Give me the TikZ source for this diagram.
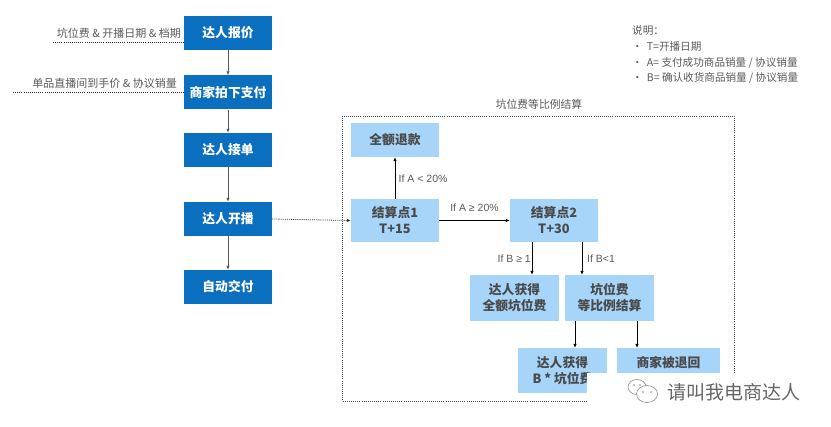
\documentclass[tikz,border=0pt]{standalone}
\usepackage{fontspec}
\setmainfont{Noto Sans CJK SC}
\newfontfamily\latinf{Liberation Sans}
\usetikzlibrary{arrows.meta,calc}
\definecolor{darkbox}{HTML}{0B6FBF}
\definecolor{lightbox}{HTML}{A7D5FA}
\definecolor{boxtext}{HTML}{4A4A4A}
\definecolor{labeltext}{HTML}{5A5A5A}
\begin{document}
\begin{tikzpicture}[x=1pt,y=-1pt,
  darkstyle/.style={fill=darkbox,draw=none,text=white,minimum width=88pt,minimum height=34pt,inner sep=0pt,font=\fontsize{12.8}{15}\selectfont\bfseries},
  lightstyle/.style={fill=lightbox,draw=none,text=boxtext,minimum width=88pt,inner sep=0pt,align=center,font=\fontsize{12.8}{16}\selectfont\bfseries},
  grayarrow/.style={draw=black!65,line width=0.9pt,-{Latex[length=4pt,width=3.5pt]}},
  blackarrow/.style={draw=black,line width=0.7pt,-{Latex[length=4pt,width=3.5pt]}},
  dotline/.style={draw=black!80,line width=0.8pt,dash pattern=on 1pt off 1.1pt},
  lbl/.style={text=labeltext,font=\fontsize{11}{13}\selectfont,inner sep=0pt},
  clbl/.style={text=labeltext,font=\latinf\fontsize{10.5}{12}\selectfont,inner sep=0pt},
  lgd/.style={text=labeltext,font=\fontsize{10.6}{12}\selectfont,inner sep=0pt,anchor=west}
]
\useasboundingbox (0,0) rectangle (831,427);
\fill[white] (0,0) rectangle (831,427);

% left column
\node[darkstyle] (baojia) at (228,33) {达人报价};
\node[darkstyle] (paixia) at (228,92.5) {商家拍下支付};
\node[darkstyle] (jiedan) at (228,150) {达人接单};
\node[darkstyle] (kaibo) at (228,219) {达人开播};
\node[darkstyle] (jiaofu) at (228,287) {自动交付};
\draw[grayarrow] (baojia) -- (paixia);
\draw[grayarrow] (paixia) -- (jiedan);
\draw[grayarrow] (jiedan) -- (kaibo);
\draw[grayarrow] (kaibo) -- (jiaofu);

% left inputs
\coordinate (in1) at (53,42);
\coordinate (in2) at (13,92);
\draw[dotline] (in1) -- (in1 -| baojia.west);
\draw[dotline] (in2) -- (in2 -| paixia.west);
\node[lbl,anchor=east] (l1) at (181,33) {坑位费 \& 开播日期 \& 档期};
\node[lbl,anchor=east] (l2) at (177,83) {单品直播间到手价 \& 协议销量};

% legend
\node[lgd] (lg0) at (632,31) {说明：};
\node[lgd] (lg1) at (632,47) {•\hspace{4pt}T=开播日期};
\node[lgd] (lg2) at (632,62.5) {•\hspace{4pt}A= 支付成功商品销量 / 协议销量};
\node[lgd] (lg3) at (632,78) {•\hspace{4pt}B= 确认收货商品销量 / 协议销量};

% dashed container
\draw[dotline,draw=black!70] (342,116) rectangle (734.5,401);
\node[lbl,font=\fontsize{10.8}{12}\selectfont] (title) at (539,104) {坑位费等比例结算};

% inner boxes
\node[lightstyle,minimum height=34pt] (tuikuan) at (395,140) {全额退款};
\node[lightstyle,minimum height=43pt] (js1) at (395,220.5) {结算点1\\T+15};
\node[lightstyle,minimum height=43pt] (js2) at (554,220.5) {结算点2\\T+30};
\node[lightstyle,minimum width=89pt,minimum height=46pt] (quan) at (514.5,298) {达人获得\\全额坑位费};
\node[lightstyle,minimum width=89pt,minimum height=46pt] (dengbi) at (609.5,298) {坑位费\\等比例结算};
\node[lightstyle,minimum width=89pt,minimum height=45pt] (bfee) at (562.5,370.5) {达人获得\\B * 坑位费};
\node[lightstyle,minimum width=103pt,minimum height=45pt] (tuihui) at (668.5,370.5) {商家被退回\\\phantom{坑位费}};

% connectors
\draw[dotline,-{Latex[length=4pt,width=3.5pt]}] (kaibo.east) -- (js1.west);
\draw[blackarrow] (js1) -- (tuikuan);
\draw[blackarrow] (js1) -- (js2);
\draw[blackarrow] ([xshift=-22pt]js2.south) -- ([xshift=-22pt]js2.south |- quan.north);
\draw[blackarrow] ([xshift=28pt]js2.south) -- ([xshift=28pt]js2.south |- dengbi.north);
\draw[blackarrow] ([xshift=-34.5pt]dengbi.south) -- ([xshift=-34.5pt]dengbi.south |- bfee.north);
\draw[blackarrow] ([xshift=27.5pt]dengbi.south) -- ([xshift=27.5pt]dengbi.south |- tuihui.north);

% connector labels
\node[clbl,anchor=west] (ca) at (398.5,179) {If A < 20\%};
\node[clbl] (cb) at (474.5,208) {If A ≥ 20\%};
\node[clbl,anchor=east] (cc) at (531,259) {If B ≥ 1};
\node[clbl,anchor=west] (cd) at (587,259) {If B<1};

% watermark
\fill[white] (587,373) rectangle (831,427);
\begin{scope}[draw=black!45,line width=0.6pt]
  \draw (637,387) ellipse (9pt and 7.5pt);
  \fill[white] (647,394) ellipse (10.5pt and 8.5pt);
  \draw (647,394) ellipse (10.5pt and 8.5pt);
  \fill[black!45] (634,385) circle (0.9pt) (640,385) circle (0.9pt) (643,392) circle (0.9pt) (651,392) circle (0.9pt);
\end{scope}
\node[text=black!60,font=\fontsize{19}{22}\selectfont,inner sep=0pt,anchor=west] (wm) at (667,392) {请叫我电商达人};
\end{tikzpicture}
\end{document}
